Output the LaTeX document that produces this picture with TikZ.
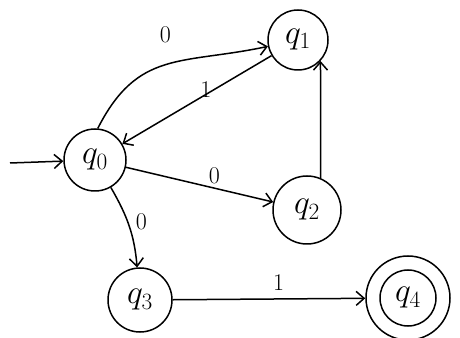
\documentclass[tikz,border=0pt]{standalone}
\usepackage{amsmath}
\usepackage{graphicx}
\usepackage{tikz}
\usepackage{xcolor}
\usetikzlibrary{arrows.meta}

\begin{document}
\begin{tikzpicture}[x=1pt, y=1pt, line width=1.5pt,
    >={Straight Barb[length=8pt,width=14pt]},
    state/.style={draw, circle, inner sep=0pt, font=\fontsize{24}{28}\selectfont},
    lbl/.style={font=\fontsize{24}{26}\selectfont}]
    \useasboundingbox (0,0) rectangle (460,337);
    \node[state, minimum size=62pt] (q0) at (95,177) {\scalebox{1.35}{$q_0$}};
    \node[state, minimum size=60pt] (q1) at (298,297) {\scalebox{1.35}{$q_1$}};
    \node[state, minimum size=68pt] (q2) at (307,127) {\scalebox{1.35}{$q_2$}};
    \node[state, minimum size=64pt] (q3) at (140,37) {\scalebox{1.35}{$q_3$}};
    \node[state, minimum size=84pt] (q4) at (408,39) {};
    \node[state, minimum size=56pt] (q4in) at (q4) {\scalebox{1.35}{$q_4$}};
    \coordinate (start) at (10,174);
    \draw[->] (start) -- (q0);
    \draw[->] (q0.85) to[out=63, in=192, looseness=1.2] node[lbl, above=18pt, pos=0.5]{0} (q1);
    \draw[->] (q1) -- node[lbl, above=-7pt, pos=0.44]{1} (q0);
    \draw[->] (q2.67) -- (q1.-43);
    \draw[->] (q0) -- node[lbl, above, pos=0.6]{0} (q2);
    \draw[->] (q0) to[out=-60, in=95] node[lbl, right=4pt, pos=0.45]{0} (q3);
    \draw[->] (q3) -- node[lbl, above=4pt, pos=0.55]{1} (q4);
\end{tikzpicture}
\end{document}
